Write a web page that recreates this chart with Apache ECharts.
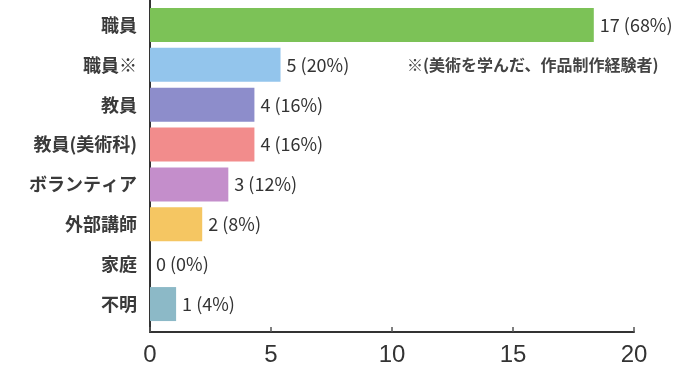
<!DOCTYPE html>
<html><head><meta charset="utf-8">
<script src="https://cdn.jsdelivr.net/npm/echarts@6/dist/echarts.min.js"></script>
<style>html,body{margin:0;padding:0;background:#fff}#c{width:681px;height:367px}</style>
</head><body><div id="c"></div>
<script>
const categories = ['職員', '職員※', '教員', '教員(美術科)', 'ボランティア', '外部講師', '家庭', '不明'];
const values = [17, 5, 4, 4, 3, 2, 0, 1];
const percents = [68, 20, 16, 16, 12, 8, 0, 4];
const colorFor = ['#7cc257', '#93c5ec', '#8d8dcb', '#f28c8c', '#c48ecb', '#f5c662', '#ffffff', '#8cb9c7'];
const axisTicks = [0, 5, 10, 15, 20];
const note = '※(美術を学んだ、作品制作経験者)';

const font = '"Noto Sans CJK JP", "Noto Sans", sans-serif';
const chart = echarts.init(document.getElementById('c'));
chart.setOption({
  animation: false,
  title: {
    text: note, left: 402, top: 52,
    textStyle: { fontSize: 16, fontWeight: 'bold', color: '#444', fontFamily: font }
  },
  grid: [
    { left: 150, width: 484, top: 5, height: 319 },
    { left: 150, width: 484, top: 0, height: 332 }
  ],
  xAxis: [
    { gridIndex: 0, type: 'value', min: 0, max: 18.54, show: false },
    { gridIndex: 1, type: 'value', min: axisTicks[0], max: axisTicks[axisTicks.length - 1], interval: 5,
      axisLine: { show: true, lineStyle: { color: '#333', width: 2 } },
      axisTick: { show: true, inside: true, length: 5, lineStyle: { color: '#555', width: 1.5 } },
      splitLine: { show: false },
      axisLabel: { fontSize: 24, color: '#333', margin: 11, fontFamily: '"Liberation Sans", Arial, sans-serif' } }
  ],
  yAxis: [
    { gridIndex: 0, type: 'category', data: categories, inverse: true,
      axisLine: { show: false }, axisTick: { show: false },
      axisLabel: { fontSize: 18, fontWeight: 'bold', color: '#3a3a3a', margin: 13, fontFamily: font } },
    { gridIndex: 1, type: 'value', min: 0, max: 1,
      axisLine: { show: true, lineStyle: { color: '#333', width: 2 } },
      axisTick: { show: false }, axisLabel: { show: false }, splitLine: { show: false } }
  ],
  series: [{
    type: 'bar', xAxisIndex: 0, yAxisIndex: 0, barWidth: 34,
    data: values.map((v, i) => ({ value: v, itemStyle: { color: colorFor[i] } })),
    label: {
      show: true, position: 'right', distance: 6,
      fontSize: 18, color: '#333', fontFamily: font,
      formatter: p => values[p.dataIndex] + ' (' + percents[p.dataIndex] + '%)'
    }
  }]
});
</script></body></html>
